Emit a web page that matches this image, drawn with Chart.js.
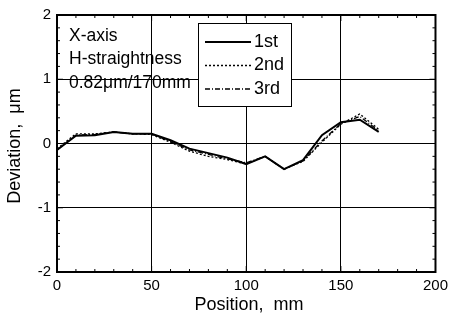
<!DOCTYPE html>
<html>
<head>
<meta charset="utf-8">
<script src="https://cdn.jsdelivr.net/npm/chart.js@4.4.1/dist/chart.umd.min.js"></script>
<style>
	html, body { margin: 0; padding: 0; background: #fff; }
	#wrap { width: 453px; height: 324px; }
</style>
</head>
<body>
<div id="wrap"><canvas id="lineChart" width="453" height="324"></canvas></div>
<script>
var FONT_FAMILY = '"Liberation Sans", Arial, sans-serif';

// measured straightness, three runs along X
var positions = [0, 10, 20, 30, 40, 50, 60, 70, 80, 90, 100, 110, 120, 130, 140, 150, 160, 170];
var run1 = [-0.10, 0.12, 0.13, 0.18, 0.15, 0.15, 0.05, -0.08, -0.15, -0.22, -0.32, -0.20, -0.40, -0.26, 0.13, 0.33, 0.37, 0.18];
var run2 = [-0.08, 0.15, 0.15, 0.18, 0.15, 0.14, 0.02, -0.12, -0.20, -0.25, -0.32, -0.20, -0.40, -0.28, 0.02, 0.30, 0.46, 0.22];
var run3 = [-0.10, 0.13, 0.14, 0.18, 0.15, 0.15, 0.03, -0.10, -0.17, -0.24, -0.30, -0.20, -0.40, -0.27, 0.04, 0.31, 0.42, 0.20];
var runLabels = ['1st', '2nd', '3rd'];
var noteLines = ['X-axis', 'H-straightness', '0.82\u03bcm/170mm'];
var xTitle = 'Position,  mm';
var yTitle = 'Deviation,  \u03bcm';
var xTicks = [0, 50, 100, 150, 200];
var yTicks = [-2, -1, 0, 1, 2];

var toPoints = function(ys) {
	return ys.map(function(y, i) { return { x: positions[i], y: y }; });
};

// frame, inward minor ticks, axis titles, text block and legend box
var framePlugin = {
	id: 'frame',
	afterDraw: function(chart) {
		var c = chart.ctx, a = chart.chartArea;
		var xs = chart.scales.x, ys = chart.scales.y;
		c.save();
		c.strokeStyle = '#000';
		c.lineWidth = 1;
		var v, p;
		for (v = 0; v <= 200; v += 10) {
			p = xs.getPixelForValue(v);
			var len = (v % 50 === 0) ? 6 : 3;
			c.beginPath();
			c.moveTo(p, a.bottom); c.lineTo(p, a.bottom - len);
			c.moveTo(p, a.top); c.lineTo(p, a.top + len);
			c.stroke();
		}
		for (v = -2; v <= 2.001; v += 0.2) {
			p = ys.getPixelForValue(v);
			var l2 = (Math.abs(v - Math.round(v)) < 0.01) ? 6 : 3;
			c.beginPath();
			c.moveTo(a.left, p); c.lineTo(a.left + l2, p);
			c.moveTo(a.right, p); c.lineTo(a.right - l2, p);
			c.stroke();
		}
		c.lineWidth = 2;
		c.strokeRect(a.left, a.top, a.right - a.left, a.bottom - a.top);

		c.fillStyle = '#000';
		c.textBaseline = 'middle';
		c.textAlign = 'center';
		c.font = '18px ' + FONT_FAMILY;
		c.fillText(xTitle, 249, 305);
		c.save();
		c.translate(15, 146);
		c.rotate(-Math.PI / 2);
		c.fillText(yTitle, 0, 0);
		c.restore();

		c.font = '17.5px ' + FONT_FAMILY;
		c.textAlign = 'left';
		noteLines.forEach(function(t, i) {
			c.fillText(t, a.left + 12, 36 + i * 23.5);
		});

		// legend
		var bx = 198, by = 23, bw = 93, bh = 83;
		c.fillStyle = '#fff';
		c.fillRect(bx, by, bw, bh);
		c.lineWidth = 1;
		c.strokeRect(bx + 0.5, by + 0.5, bw, bh);
		c.font = '18px ' + FONT_FAMILY;
		chart.data.datasets.forEach(function(ds, i) {
			var ly = 42 + i * 23.5;
			c.strokeStyle = '#000';
			c.lineWidth = ds.borderWidth;
			c.setLineDash(ds.borderDash || []);
			c.beginPath();
			c.moveTo(205, ly); c.lineTo(251, ly);
			c.stroke();
			c.setLineDash([]);
			c.fillStyle = '#000';
			c.fillText(ds.label, 254, ly);
		});
		c.restore();
	}
};

var ctx = document.getElementById('lineChart');
var lineChart = new Chart(ctx, {
	type: 'line',
	data: {
		datasets: [{
			label: runLabels[0],
			data: toPoints(run1),
			borderColor: '#000',
			borderWidth: 2,
			pointRadius: 0,
			tension: 0
		}, {
			label: runLabels[1],
			data: toPoints(run2),
			borderColor: '#000',
			borderWidth: 1.3,
			borderDash: [2, 2],
			pointRadius: 0,
			tension: 0
		}, {
			label: runLabels[2],
			data: toPoints(run3),
			borderColor: '#000',
			borderWidth: 1.3,
			borderDash: [5, 2, 1, 2],
			pointRadius: 0,
			tension: 0
		}]
	},
	options: {
		responsive: false,
		animation: false,
		layout: { padding: { top: 12, right: 14, left: 0, bottom: 0 } },
		plugins: { legend: { display: false }, tooltip: { enabled: false } },
		scales: {
			x: {
				type: 'linear',
				min: 0, max: 200,
				afterBuildTicks: function(s) { s.ticks = xTicks.map(function(v) { return { value: v }; }); },
				afterFit: function(s) { s.height = 52; },
				grid: { color: '#000', lineWidth: 1, drawTicks: false },
				border: { display: false },
				ticks: { color: '#000', font: { family: FONT_FAMILY, size: 15 }, padding: 5, maxRotation: 0 },
				title: { display: false }
			},
			y: {
				min: -2, max: 2,
				afterBuildTicks: function(s) { s.ticks = yTicks.map(function(v) { return { value: v }; }); },
				afterFit: function(s) { s.width = 57; },
				grid: { color: '#000', lineWidth: 1, drawTicks: false },
				border: { display: false },
				ticks: { color: '#000', font: { family: FONT_FAMILY, size: 15 }, padding: 6 },
				title: { display: false }
			}
		}
	},
	plugins: [framePlugin]
});
</script>
</body>
</html>
